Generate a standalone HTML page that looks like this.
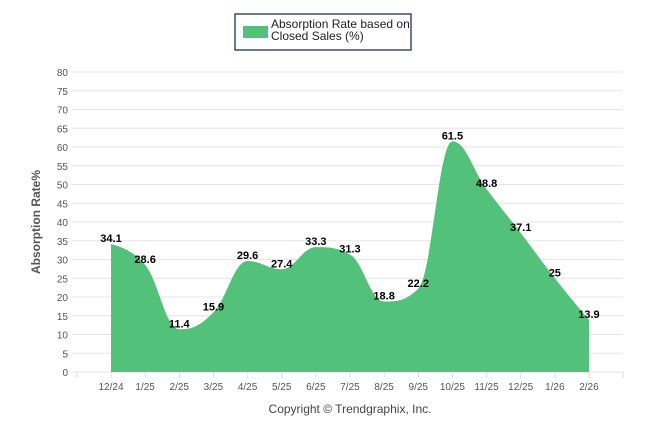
<!DOCTYPE html>
<html><head><meta charset="utf-8"><style>
body{margin:0;background:#fff;width:646px;height:434px;overflow:hidden;font-family:"Liberation Sans",sans-serif}
</style></head><body>
<svg id="chart" width="646" height="434" xmlns="http://www.w3.org/2000/svg">
<g>
<rect x="235" y="14" width="176" height="36" fill="#fff" stroke="#1f2f55" stroke-width="1.3"/>
<rect x="243" y="26" width="25" height="12" fill="#52c17a"/>
<text x="271" y="28" font-size="12" fill="#222">Absorption Rate based on</text>
<text x="271" y="40" font-size="12" fill="#222">Closed Sales (%)</text>
</g>
<g id="grid"></g><g id="series"></g><g id="labels"></g>
<text x="40" y="222" transform="rotate(-90 40 222)" text-anchor="middle" font-size="12" font-weight="bold" fill="#555">Absorption Rate%</text>
<text x="350" y="413" text-anchor="middle" font-size="12" fill="#444">Copyright © Trendgraphix, Inc.</text>
</svg>
<script>
const categories=["12/24","1/25","2/25","3/25","4/25","5/25","6/25","7/25","8/25","9/25","10/25","11/25","12/25","1/26","2/26"];
const values=[34.1,28.6,11.4,15.9,29.6,27.4,33.3,31.3,18.8,22.2,61.5,48.8,37.1,25,13.9];
const yTicks=[0,5,10,15,20,25,30,35,40,45,50,55,60,65,70,75,80];
const NS="http://www.w3.org/2000/svg";
const X=i=>111+34.14*i, Y=v=>372-v*3.75;
function mk(t,a,p){const e=document.createElementNS(NS,t);for(const k in a)e.setAttribute(k,a[k]);p.appendChild(e);return e;}
const grid=document.getElementById('grid');
yTicks.forEach(t=>{
 const l=mk('line',{x1:72,x2:623,y1:Y(t),y2:Y(t),stroke:'#e6e6e6'},grid);
 
 
 const tx=mk('text',{x:68,y:Y(t)+4,'text-anchor':'end','font-size':'10',fill:'#555'},grid);tx.textContent=t;
 
 
});
for(let k=0;k<=16;k++){const t=mk('line',{x1:77+34.14*k,x2:77+34.14*k,y1:372,y2:378,stroke:'#ddd'},grid);
 
 }
categories.forEach((c,i)=>{const t=mk('text',{x:X(i),y:390,'text-anchor':'middle','font-size':'10',fill:'#555'},grid);t.textContent=c;
 
 });
const pts=values.map((v,i)=>[X(i),Y(v)]);
const s=1.5;let d=`M${pts[0][0]},${Y(0)} L${pts[0][0]},${pts[0][1]}`;
function ctrl(i){const p=pts[i],a=pts[i-1],b=pts[i+1];
 if(!a||!b)return[p,p];
 let lx=(s*p[0]+a[0])/(s+1),ly=(s*p[1]+a[1])/(s+1),rx=(s*p[0]+b[0])/(s+1),ry=(s*p[1]+b[1])/(s+1);
 const cor=((ry-ly)*(rx-p[0]))/(rx-lx)+p[1]-ry;ly+=cor;ry+=cor;
 if(ly>a[1]&&ly>p[1]){ly=Math.max(a[1],p[1]);ry=2*p[1]-ly;}else if(ly<a[1]&&ly<p[1]){ly=Math.min(a[1],p[1]);ry=2*p[1]-ly;}
 if(ry>b[1]&&ry>p[1]){ry=Math.max(b[1],p[1]);ly=2*p[1]-ry;}else if(ry<b[1]&&ry<p[1]){ry=Math.min(b[1],p[1]);ly=2*p[1]-ry;}
 return[[lx,ly],[rx,ry]];}
const C=pts.map((p,i)=>ctrl(i));
for(let i=1;i<pts.length;i++){d+=` C${C[i-1][1][0]},${C[i-1][1][1]} ${C[i][0][0]},${C[i][0][1]} ${pts[i][0]},${pts[i][1]}`;}
d+=` L${pts[pts.length-1][0]},${Y(0)} Z`;
const area=mk('path',{d:d,fill:'#52c17a'},document.getElementById('series'));


values.forEach((v,i)=>{const t=mk('text',{x:X(i),y:Y(v)-2,'text-anchor':'middle','font-size':'11','font-weight':'bold',fill:'#000'},document.getElementById('labels'));t.textContent=v;
 
 });
</script>
</body></html>
